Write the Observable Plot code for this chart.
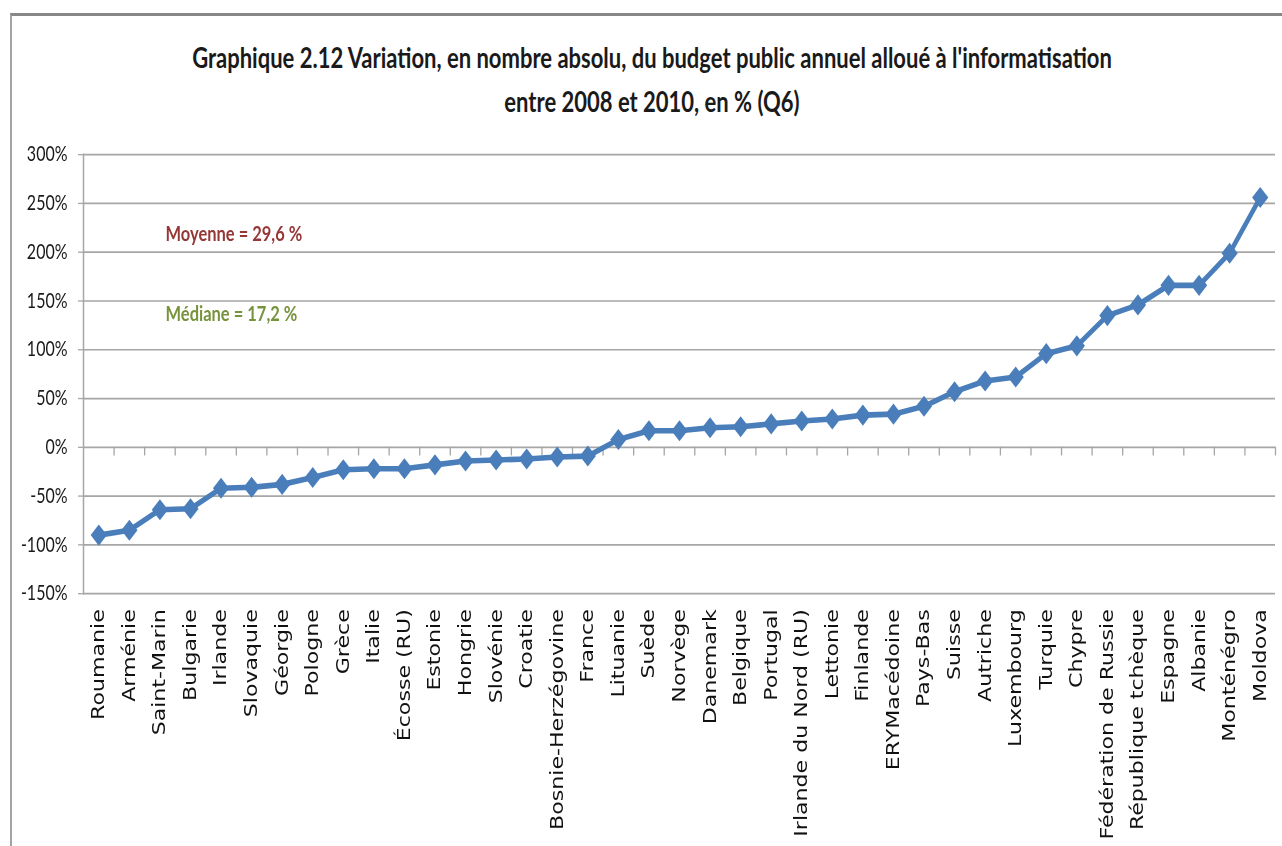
<!DOCTYPE html>
<html>
<head>
<meta charset="utf-8">
<script src="https://cdn.jsdelivr.net/npm/d3@7"></script>
<script src="https://cdn.jsdelivr.net/npm/@observablehq/plot@0.6"></script>
<style>
  body { margin: 0; background: #fff; width: 1282px; height: 846px; overflow: hidden; position: relative; }
  #frame { position: absolute; left: 10px; top: 13px; width: 1300px; height: 900px;
           border-top: 3px solid #878787; border-left: 2px solid #a3a3a3; }
  #title { position: absolute; left: 0; top: 35px; width: 1304px; text-align: center;
           font-family: Lato, "Liberation Sans", sans-serif; font-weight: bold; font-size: 22px;
           line-height: 33.8px; color: #1a1a1a; transform: scaleY(1.3); transform-origin: 0 0; white-space: nowrap; }
  #chart { position: absolute; left: 0; top: 140px; transform: scaleY(1.3); transform-origin: 0 0; }
</style>
</head>
<body>
<div id="frame"></div>
<div id="title">Graphique 2.12 Variation, en nombre absolu, du budget public annuel alloué à l'informatisation<br>entre 2008 et 2010, en % (Q6)</div>
<div id="chart"></div>
<script>
const countries = ["Roumanie","Arménie","Saint-Marin","Bulgarie","Irlande","Slovaquie","Géorgie","Pologne","Grèce","Italie",
  "Écosse (RU)","Estonie","Hongrie","Slovénie","Croatie","Bosnie-Herzégovine","France","Lituanie","Suède","Norvège",
  "Danemark","Belgique","Portugal","Irlande du Nord (RU)","Lettonie","Finlande","ERYMacédoine","Pays-Bas","Suisse","Autriche",
  "Luxembourg","Turquie","Chypre","Fédération de Russie","République tchèque","Espagne","Albanie","Monténégro","Moldova"];
const values = [-90,-85,-64,-63,-42,-41,-38,-31,-23,-22,
  -22,-18,-14,-13,-12,-10,-9,8,17,17,
  20,21,24,27,29,33,34,42,57,68,
  72,96,104,135,146,166,166,199,256];
const yTicks = [-150,-100,-50,0,50,100,150,200,250,300];
const meanLabel = "Moyenne = 29,6 %";
const medianLabel = "Médiane = 17,2 %";

const data = countries.map((c, i) => ({country: c, value: values[i]}));

const stretch = 1.3;              // vertical stretch of the reference picture
const chartTop = 140;
const W = 1282;
const H = (846 - chartTop) / stretch;
const mt = (154 - chartTop) / stretch;
const mb = H - (593 - chartTop) / stretch;
const ml = 83, mr = 7;
const bw = (W - ml - mr) / countries.length;
const blue = "#4a7ebb";
const grid = "#a6a6a6";

const chart = Plot.plot({
  width: W, height: H,
  marginLeft: ml, marginRight: mr, marginTop: mt, marginBottom: mb,
  style: {background: "transparent", overflow: "visible", color: "#1a1a1a"},
  x: {type: "band", domain: countries, padding: 0, round: false, label: null},
  y: {domain: [-150, 300], label: null},
  marks: [
    Plot.ruleY(yTicks, {stroke: grid, strokeWidth: 1.3}),
    Plot.frame({anchor: "left", stroke: grid, strokeWidth: 1.5}),
    Plot.ruleX(countries, {x: d => d, dx: bw / 2, y1: 0, y2: -9, stroke: grid, strokeWidth: 1.3}),
    Plot.axisY({ticks: yTicks, tickFormat: d => d + "%", tickSize: 5, tickPadding: 11, stroke: grid,
      fill: "#1a1a1a", fontFamily: "Lato", fontSize: 16, label: null}),
    Plot.axisX({anchor: "bottom", tickSize: 0, tickRotate: -90, tickPadding: 12, fill: "#111",
      fontFamily: "DejaVu Sans", fontSize: 17, label: null}),
    Plot.line(data, {x: "country", y: "value", stroke: blue, strokeWidth: 4.3}),
    Plot.dot(data, {x: "country", y: "value", symbol: "diamond2", r: 7.3, fill: blue, stroke: "none"}),
    Plot.text([meanLabel], {frameAnchor: "top-left", dx: 82, dy: 60.8, textAnchor: "start", lineAnchor: "middle",
      fill: "#953735", fontFamily: "Lato", fontWeight: "bold", fontSize: 16.5}),
    Plot.text([medianLabel], {frameAnchor: "top-left", dx: 82, dy: 122.3, textAnchor: "start", lineAnchor: "middle",
      fill: "#77933c", fontFamily: "Lato", fontWeight: "bold", fontSize: 16.5})
  ]
});
document.getElementById("chart").appendChild(chart);
</script>
</body>
</html>
